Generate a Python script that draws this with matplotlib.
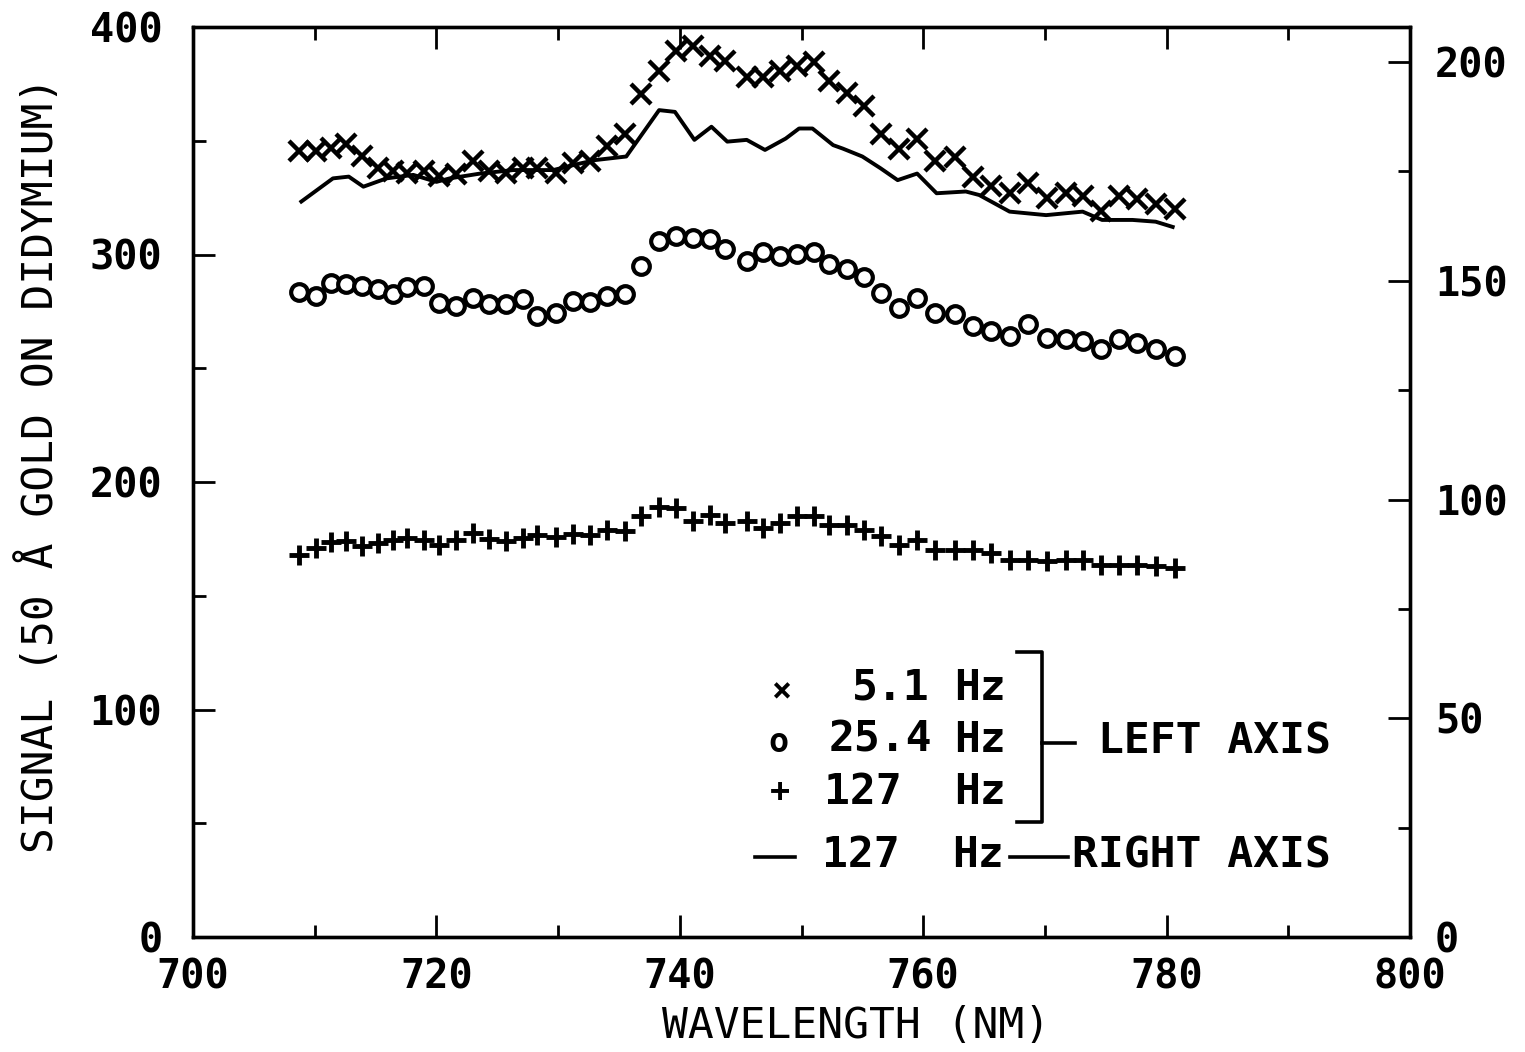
import matplotlib
matplotlib.use("Agg")
import matplotlib.pyplot as plt
from matplotlib.lines import Line2D

# wavelength grid (nm), same for the three marker series
wl = [708.7, 710.1, 711.3, 712.6, 713.9, 715.2, 716.4, 717.6, 719.0, 720.2,
      721.6, 723.0, 724.3, 725.7, 727.1, 728.3, 729.8, 731.2, 732.6, 734.0,
      735.5, 736.8, 738.3, 739.7, 741.1, 742.5, 743.7, 745.5, 746.8, 748.2,
      749.6, 751.0, 752.3, 753.7, 755.1, 756.5, 758.0, 759.5, 761.0, 762.6,
      764.1, 765.6, 767.1, 768.6, 770.2, 771.7, 773.1, 774.6, 776.1, 777.6,
      779.1, 780.7]

# 5.1 Hz (left axis)
sig_5 = [345.6, 345.6, 347.0, 348.5, 343.4, 338.2, 336.8, 336.0, 336.8, 334.6,
         335.3, 341.2, 336.8, 336.0, 338.2, 338.2, 336.0, 340.4, 341.2, 347.8,
         352.9, 370.5, 380.8, 389.6, 391.8, 387.4, 385.2, 377.9, 377.9, 380.8,
         383.0, 384.5, 376.4, 371.2, 365.4, 352.9, 346.3, 350.7, 341.2, 342.7,
         333.9, 330.1, 327.2, 331.6, 325.0, 327.2, 325.7, 319.1, 325.7, 324.2,
         322.0, 319.9]

# 25.4 Hz (left axis)
sig_25 = [283.3, 281.8, 287.6, 286.9, 286.2, 285.0, 282.5, 285.5, 286.2, 278.8,
          277.4, 281.0, 278.1, 278.1, 280.3, 273.0, 274.4, 279.6, 279.1, 281.8,
          282.5, 295.0, 306.0, 308.2, 307.4, 306.7, 302.3, 297.2, 300.9, 299.4,
          300.1, 300.9, 295.7, 293.5, 289.9, 283.2, 276.6, 281.0, 274.4, 273.7,
          268.6, 266.4, 264.1, 269.3, 263.4, 262.7, 262.0, 258.3, 262.7, 261.2,
          258.3, 255.4]

# 127 Hz (left axis)
sig_127 = [168.1, 171.0, 173.5, 174.0, 171.8, 173.2, 174.7, 175.4, 174.4, 172.5,
           174.7, 177.6, 175.0, 174.0, 175.4, 176.6, 175.9, 177.3, 176.5, 178.8,
           178.4, 185.0, 189.0, 188.6, 182.7, 185.7, 181.8, 182.7, 179.8, 182.0,
           185.0, 185.0, 181.3, 181.3, 179.1, 176.1, 172.5, 174.7, 170.3, 170.3,
           170.3, 168.8, 165.9, 165.9, 165.1, 165.9, 165.9, 163.7, 163.7, 163.7,
           163.0, 162.2]

# 127 Hz (right axis), drawn as a line
line_wl = [708.9, 711.5, 712.8, 714.0, 715.9, 718.1, 720.0, 721.1, 723.6, 726.3,
           729.6, 731.8, 733.1, 735.6, 738.3, 739.6, 741.2, 742.6, 743.9, 745.5,
           747.0, 748.7, 749.8, 750.9, 752.6, 753.4, 755.0, 756.5, 757.9, 759.5,
           761.1, 763.5, 764.6, 767.1, 770.1, 773.1, 774.7, 777.2, 779.1, 780.5]
line_127 = [168.1, 173.4, 173.8, 171.5, 173.4, 174.2, 172.6, 173.4, 174.5, 175.3,
            175.3, 176.8, 177.6, 178.4, 189.0, 188.6, 182.2, 185.2, 181.8, 182.2,
            179.9, 182.5, 184.8, 184.8, 181.0, 180.2, 178.4, 175.7, 173.0, 174.5,
            170.0, 170.4, 169.6, 165.8, 165.0, 165.8, 163.9, 163.9, 163.5, 162.3]

W, H = 1525, 1052
fig = plt.figure(figsize=(W / 100, H / 100), dpi=100)
ax = fig.add_axes([193 / W, 1 - 937 / H, (1410 - 193) / W, (937 - 27) / H])
ax2 = ax.twinx()

font = "DejaVu Sans Mono"
fs_tick = 29
fs_lab = 31
fs_leg = 31

ax.plot(wl, sig_5, linestyle="none", marker="x", ms=15, mew=3.2, color="black")
ax.plot(wl, sig_25, linestyle="none", marker="o", ms=12, mew=3,
        mfc="white", color="black")
ax.plot(wl, sig_127, linestyle="none", marker="+", ms=15, mew=3.5, color="black")
ax2.plot(line_wl, line_127, color="black", lw=2.8)

ax.set_xlim(700, 800)
ax.set_ylim(0, 400)
ax2.set_ylim(0, 208)

ax.set_xticks(range(700, 801, 20))
ax.set_xticks(range(710, 800, 20), minor=True)
ax.set_yticks(range(0, 401, 100))
ax.set_yticks(range(50, 400, 100), minor=True)
ax2.set_yticks(range(0, 201, 50))
ax2.set_yticks(range(25, 201, 50), minor=True)

for a in (ax, ax2):
    for s in a.spines.values():
        s.set_linewidth(2.4)
    a.tick_params(which="major", direction="in", length=16, width=2,
                  labelsize=fs_tick, top=True)
    a.tick_params(which="minor", direction="in", length=9, width=2, top=True)
ax.tick_params(axis="y", pad=22)
ax.tick_params(axis="x", pad=15)
ax2.tick_params(axis="y", pad=18)
for lab in ax.get_xticklabels() + ax.get_yticklabels() + ax2.get_yticklabels():
    lab.set_fontfamily(font)
    lab.set_fontweight("bold")

ax.set_xlabel("WAVELENGTH (NM)", fontsize=fs_lab, family=font)
ax.set_ylabel("SIGNAL (50 Å GOLD ON DIDYMIUM)", fontsize=fs_lab, family=font)
ax.xaxis.set_label_coords((856 - 193) / 1217, (937 - 1026) / 910)
ax.yaxis.set_label_coords((40 - 193) / 1217, (937 - 465) / 910)
ax.xaxis.label.set_va("center")
ax.yaxis.label.set_va("center")


def ftxt(px, py, s, ha="left", size=fs_leg):
    fig.text(px / W, 1 - py / H, s, fontsize=size, family=font,
             fontweight="bold", ha=ha, va="center")


def fline(xs, ys, lw=2.6):
    fig.add_artist(Line2D([x / W for x in xs], [1 - y / H for y in ys],
                          color="black", lw=lw))


# legend drawn by hand, like the original
ftxt(781, 692, "×", ha="center", size=24)
ftxt(778, 743, "o", ha="center", size=24)
ftxt(780, 793, "+", ha="center", size=24)
ftxt(930, 688, "5.1", ha="right")
ftxt(932, 740, "25.4", ha="right")
ftxt(824, 792, "127")
ftxt(954, 688, "Hz")
ftxt(954, 740, "Hz")
ftxt(954, 792, "Hz")
fline([1017, 1042, 1042, 1017], [652, 652, 822, 822])
fline([1042, 1075], [743, 743])
ftxt(1098, 742, "LEFT AXIS")
fline([755, 795], [857, 857])
ftxt(822, 855, "127")
ftxt(952, 855, "Hz")
fline([1010, 1068], [857, 857])
ftxt(1072, 855, "RIGHT AXIS")

fig.savefig("out.png", dpi=100)
